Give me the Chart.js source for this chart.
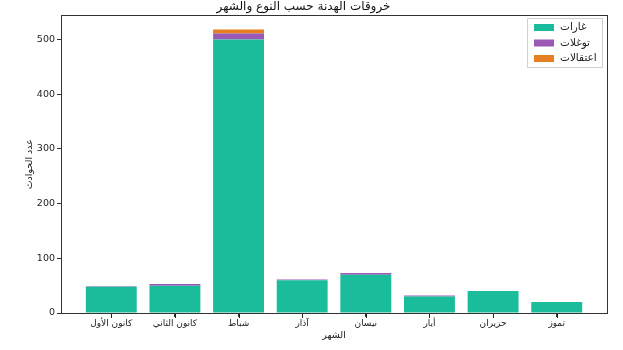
<!DOCTYPE html>
<html>
<head>
<meta charset="utf-8">
<script src="https://cdn.jsdelivr.net/npm/chart.js@4.4.0/dist/chart.umd.min.js"></script>
<style>
  html, body { margin: 0; padding: 0; background: #fff; }
</style>
</head>
<body>
<canvas id="c" width="623" height="350"></canvas>
<script>
const months = ['كانون الأول', 'كانون الثاني', 'شباط', 'آذار', 'نيسان', 'أيار', 'حزيران', 'تموز'];
const raids = [48, 50, 500, 60, 70, 30, 40, 20];
const incursions = [1, 3, 11, 1, 3, 2, 0, 0];
const arrests = [0, 0, 7, 0, 0, 0, 0, 0];
const seriesNames = ['غارات', 'توغلات', 'اعتقالات'];
const colors = ['#1abc9c', '#9b59b6', '#e67e22'];

const toPoints = arr => arr.map((v, i) => ({ x: i, y: v }));

// frame around the plot, x tick marks and legend box like matplotlib
const framePlugin = {
    id: 'frame',
    afterDraw(chart) {
        const ctx = chart.ctx;
        const a = chart.chartArea;
        const xs = chart.scales.x;
        ctx.save();
        ctx.strokeStyle = '#333';
        ctx.lineWidth = 1;
        ctx.strokeRect(Math.round(a.left) + 0.5, Math.round(a.top) + 0.5,
            Math.round(a.right - a.left), Math.round(a.bottom - a.top));

        ctx.fillStyle = '#222';
        for (let i = 0; i < months.length; i++) {
            const px = Math.round(xs.getPixelForValue(i));
            ctx.fillRect(px, Math.round(a.bottom) + 1, 1, 4);
        }

        // legend
        const bx = 527, by = 18, bw = 75, bh = 49;
        ctx.fillStyle = 'rgba(255,255,255,0.8)';
        ctx.strokeStyle = '#d0d0d0';
        ctx.beginPath();
        ctx.rect(bx + 0.5, by + 0.5, bw, bh);
        ctx.fill();
        ctx.stroke();
        ctx.font = '10.5px "DejaVu Sans"';
        ctx.textBaseline = 'middle';
        ctx.textAlign = 'left';
        const rows = [27.5, 43, 58.5];
        chart.data.datasets.forEach((ds, i) => {
            ctx.fillStyle = ds.backgroundColor;
            ctx.fillRect(534, rows[i] - 3.5, 20, 7);
            ctx.fillStyle = '#222';
            ctx.fillText(ds.label, 560, rows[i]);
        });
        ctx.restore();
    }
};

new Chart(document.getElementById('c'), {
    type: 'bar',
    data: {
        datasets: [
            { label: seriesNames[0], data: toPoints(raids), backgroundColor: colors[0] },
            { label: seriesNames[1], data: toPoints(incursions), backgroundColor: colors[1] },
            { label: seriesNames[2], data: toPoints(arrests), backgroundColor: colors[2] }
        ]
    },
    options: {
        responsive: false,
        animation: false,
        layout: { padding: { left: 0, right: 16, top: 0, bottom: 0 } },
        datasets: { bar: { barPercentage: 1, categoryPercentage: 0.8 } },
        plugins: {
            legend: { display: false },
            tooltip: { enabled: false },
            title: {
                display: true,
                text: 'خروقات الهدنة حسب النوع والشهر',
                color: '#111',
                font: { family: 'DejaVu Sans', size: 12, weight: 'normal' },
                padding: { top: 0, bottom: 1 }
            }
        },
        scales: {
            x: {
                type: 'linear',
                stacked: true,
                min: -0.79,
                max: 7.79,
                offset: false,
                afterBuildTicks: s => { s.ticks = months.map((m, i) => ({ value: i })); },
                afterFit: s => { s.height = 37; },
                ticks: {
                    callback: v => months[v],
                    color: '#222',
                    font: { family: 'DejaVu Sans', size: 9 },
                    padding: 1,
                    maxRotation: 0,
                    autoSkip: false
                },
                grid: { display: true, offset: false, drawOnChartArea: false, tickLength: 4, color: '#333' },
                border: { display: false },
                title: {
                    display: true,
                    text: 'الشهر',
                    color: '#222',
                    font: { family: 'DejaVu Sans', size: 9.5 },
                    padding: { top: 0, bottom: 9 }
                }
            },
            y: {
                stacked: true,
                min: 0,
                max: 543.9,
                afterBuildTicks: s => { s.ticks = [0, 100, 200, 300, 400, 500].map(v => ({ value: v })); },
                afterFit: s => { s.width = 61; },
                ticks: {
                    color: '#222',
                    font: { family: 'DejaVu Sans', size: 9.5 },
                    padding: 2
                },
                grid: { display: true, drawOnChartArea: false, tickLength: 4, color: '#333' },
                border: { display: false },
                title: {
                    display: true,
                    text: 'عدد الحوادث',
                    color: '#222',
                    font: { family: 'DejaVu Sans', size: 9.5 },
                    padding: { top: 24, bottom: 0 }
                }
            }
        }
    },
    plugins: [framePlugin]
});
</script>
</body>
</html>
